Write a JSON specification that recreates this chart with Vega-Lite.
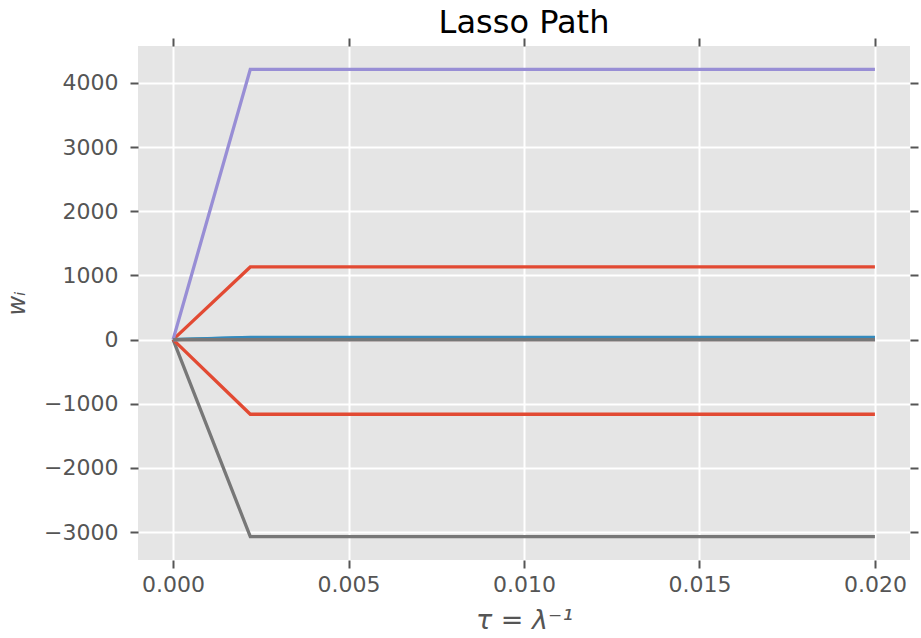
{
  "$schema": "https://vega.github.io/schema/vega-lite/v6.json",
  "autosize": {"type": "none"},
  "padding": {"left": 138, "top": 46, "right": 11, "bottom": 78},
  "width": 772,
  "height": 514,
  "background": "white",
  "title": {"text": "Lasso Path", "fontSize": 32, "font": "DejaVu Sans", "fontWeight": "normal", "color": "black", "offset": -3},
  "config": {
    "view": {"fill": "#E5E5E5", "stroke": null},
    "axis": {"labelFont": "DejaVu Sans", "labelFontSize": 22, "labelColor": "#555555", "titleFont": "DejaVu Sans", "titleColor": "#555555", "titleFontWeight": "normal", "domain": false, "tickColor": "#555555", "tickWidth": 2, "tickSize": 8, "gridColor": "white", "gridWidth": 2, "gridOpacity": 1}
  },
  "data": {"values": [
    {"s": "s01", "t": 0, "w": 0}, {"s": "s01", "t": 0.0022, "w": 1132}, {"s": "s01", "t": 0.02, "w": 1132},
    {"s": "s02", "t": 0, "w": 0}, {"s": "s02", "t": 0.0022, "w": 30}, {"s": "s02", "t": 0.02, "w": 30},
    {"s": "s03", "t": 0, "w": 0}, {"s": "s03", "t": 0.0022, "w": 4210}, {"s": "s03", "t": 0.02, "w": 4210},
    {"s": "s04", "t": 0, "w": 0}, {"s": "s04", "t": 0.0022, "w": -3070}, {"s": "s04", "t": 0.02, "w": -3070},
    {"s": "s05", "t": 0, "w": 0}, {"s": "s05", "t": 0.0022, "w": 12}, {"s": "s05", "t": 0.02, "w": 12},
    {"s": "s06", "t": 0, "w": 0}, {"s": "s06", "t": 0.0022, "w": 0}, {"s": "s06", "t": 0.02, "w": 0},
    {"s": "s07", "t": 0, "w": 0}, {"s": "s07", "t": 0.0022, "w": 0}, {"s": "s07", "t": 0.02, "w": 0},
    {"s": "s08", "t": 0, "w": 0}, {"s": "s08", "t": 0.0022, "w": -1163}, {"s": "s08", "t": 0.02, "w": -1163},
    {"s": "s09", "t": 0, "w": 0}, {"s": "s09", "t": 0.0022, "w": 35}, {"s": "s09", "t": 0.02, "w": 35},
    {"s": "s10", "t": 0, "w": 0}, {"s": "s10", "t": 0.0022, "w": 0}, {"s": "s10", "t": 0.02, "w": 0},
    {"s": "s11", "t": 0, "w": 0}, {"s": "s11", "t": 0.0022, "w": 0}, {"s": "s11", "t": 0.02, "w": 0}
  ]},
  "layer": [
    {
      "mark": {"type": "line", "strokeWidth": 3.3, "clip": true},
      "encoding": {
        "x": {"field": "t", "type": "quantitative", "scale": {"domain": [-0.001, 0.021], "nice": false, "zero": false},
              "axis": {"values": [0, 0.005, 0.01, 0.015, 0.02], "format": ".3f", "labelPadding": 6, "title": "τ = λ⁻¹", "titleFontSize": 27, "titlePadding": 12, "titleFontStyle": "italic"}},
        "y": {"field": "w", "type": "quantitative", "scale": {"domain": [-3434, 4574], "nice": false, "zero": false},
              "axis": {"values": [-3000, -2000, -1000, 0, 1000, 2000, 3000, 4000], "format": "d", "labelPadding": 12, "title": "wᵢ", "titleFontSize": 24, "titleFontStyle": "italic", "titlePadding": 14}},
        "color": {"field": "s", "type": "nominal", "legend": null,
                  "scale": {"domain": ["s01","s02","s03","s04","s05","s06","s07","s08","s09","s10","s11"],
                            "range": ["#E24A33","#348ABD","#988ED5","#777777","#FBC15E","#8EBA42","#FFB5B8","#E24A33","#348ABD","#988ED5","#777777"]}}
      }
    },
    {
      "mark": {"type": "line", "opacity": 0},
      "encoding": {
        "x": {"field": "t", "type": "quantitative", "scale": {"domain": [-0.001, 0.021], "nice": false, "zero": false},
              "axis": {"orient": "top", "values": [0, 0.005, 0.01, 0.015, 0.02], "labels": false, "grid": false, "title": null}},
        "y": {"field": "w", "type": "quantitative", "scale": {"domain": [-3434, 4574], "nice": false, "zero": false},
              "axis": {"orient": "right", "values": [-3000, -2000, -1000, 0, 1000, 2000, 3000, 4000], "labels": false, "grid": false, "title": null}},
        "detail": {"field": "s"}
      }
    }
  ],
  "resolve": {"axis": {"x": "independent", "y": "independent"}}
}
